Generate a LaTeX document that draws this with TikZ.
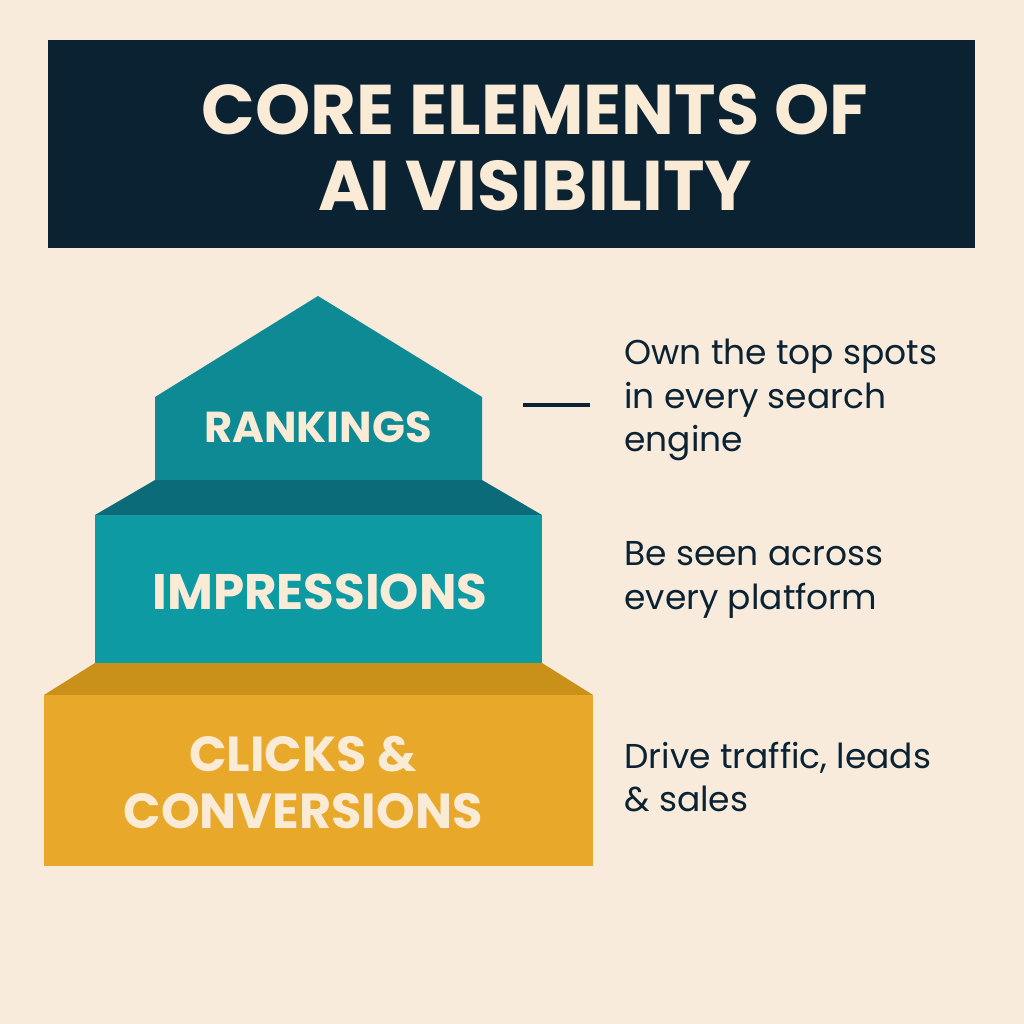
\documentclass[tikz,border=0pt]{standalone}
\usepackage{fontspec}
\setmainfont{Poppins}
\definecolor{bg}{HTML}{F8EBDB}
\definecolor{navy}{HTML}{0B2233}
\definecolor{cream}{HTML}{FAEBD7}
\definecolor{tealA}{HTML}{0E8A94}
\definecolor{tealB}{HTML}{0C6B78}
\definecolor{tealC}{HTML}{0E9AA3}
\definecolor{goldA}{HTML}{C9901A}
\definecolor{goldB}{HTML}{E8A82A}
\tikzset{lbl/.style={text=cream,font=\bfseries,align=center},
desc/.style={text=navy,anchor=west,align=left,font=\fontsize{9.8}{12.3}\selectfont}}
\begin{document}
\begin{tikzpicture}[x=0.01cm,y=-0.01cm]
\fill[bg] (0,0) rectangle (1024,1024);
\useasboundingbox (0,0) rectangle (1024,1024);
\fill[navy] (48,40) rectangle (975,248);
\node[lbl,font=\bfseries\fontsize{20}{21.5}\selectfont] (title) at (535,148) {CORE ELEMENTS OF\\AI VISIBILITY};
\fill[tealA] (155,480) -- (155,397) -- (318,296) -- (482,397) -- (482,480) -- cycle;
\node[lbl,font=\bfseries\fontsize{12.3}{14}\selectfont] (rank) at (318,427) {RANKINGS};
\fill[tealB] (155,480) -- (482,480) -- (542,515) -- (95,515) -- cycle;
\fill[tealC] (95,515) rectangle (542,663);
\node[lbl,font=\bfseries\fontsize{14.2}{17}\selectfont] (imp) at (320,592) {IMPRESSIONS};
\fill[goldA] (95,663) -- (542,663) -- (593,695) -- (44,695) -- cycle;
\fill[goldB] (44,695) rectangle (593,866);
\node[lbl,font=\bfseries\fontsize{14}{16.2}\selectfont] (clk) at (303,783) {CLICKS \&\\CONVERSIONS};
\node[desc] (d1) at (612,400) {Own the top spots\\in every search\\engine};
\node[desc] (d2) at (612,580) {Be seen across\\every platform};
\node[desc] (d3) at (612,777) {Drive traffic, leads\\\& sales};
\coordinate (l1) at (523,405);
\coordinate (l2) at (590,405);
\draw[navy,line width=1.2pt] (l1) -- (l2);
\end{tikzpicture}
\end{document}
